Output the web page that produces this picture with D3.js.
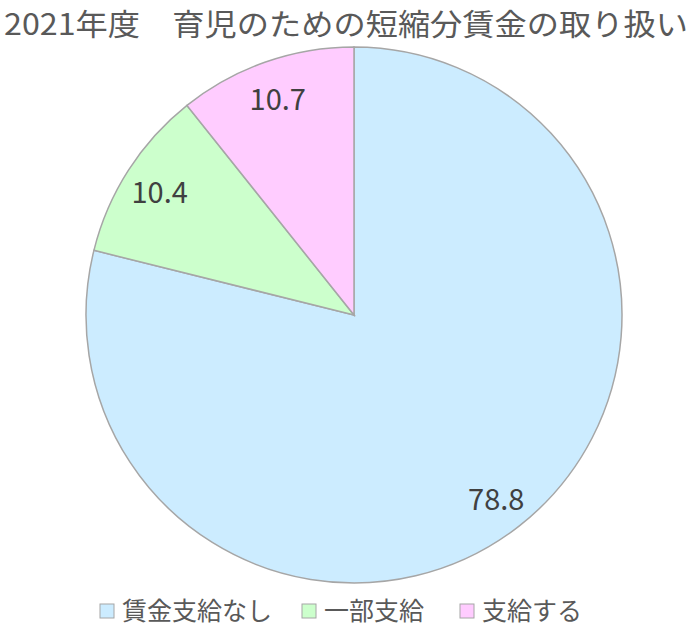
<!DOCTYPE html>
<html>
<head>
<meta charset="utf-8">
<script src="https://cdn.jsdelivr.net/npm/d3@7"></script>
<style>
  body { margin: 0; background: #fff; }
  svg { display: block; }
  text { font-family: "Noto Sans CJK JP", "Noto Sans", sans-serif; }
</style>
</head>
<body>
<div id="chart"></div>
<script>
const categories = ['賃金支給なし', '一部支給', '支給する'];
const values = [78.8, 10.4, 10.7];
const colors = ['#ccecff', '#ccffcc', '#ffccff'];
const title = '2021年度\u3000育児のための短縮分賃金の取り扱い';

const width = 700;
const height = 628;
const center = { x: 354, y: 315 };
const radius = 268;
const labelRadius = 231;

const svg = d3.select('#chart').append('svg').attr('width', width).attr('height', height);

svg.append('text')
  .attr('x', 4)
  .attr('y', 35)
  .attr('font-size', 30)
  .attr('textLength', 684)
  .attr('lengthAdjust', 'spacingAndGlyphs')
  .attr('fill', '#595959')
  .text(title);

const data = categories.map((name, i) => ({ name, value: values[i], color: colors[i] }));

const pie = d3.pie().sort(null).value(d => d.value);
const arc = d3.arc().innerRadius(0).outerRadius(radius);
const labelArc = d3.arc().innerRadius(labelRadius).outerRadius(labelRadius);

const chart = svg.append('g').attr('transform', `translate(${center.x},${center.y})`);

chart.selectAll('.slice')
  .data(pie(data))
  .enter()
  .append('path')
  .attr('class', 'slice')
  .attr('d', arc)
  .attr('fill', d => d.data.color)
  .attr('stroke', '#a6a6a6')
  .attr('stroke-width', 1.5);

chart.selectAll('.label')
  .data(pie(data))
  .enter()
  .append('text')
  .attr('class', 'label')
  .attr('transform', d => `translate(${labelArc.centroid(d)})`)
  .attr('text-anchor', 'middle')
  .attr('dominant-baseline', 'central')
  .attr('font-size', 29)
  .attr('fill', '#404040')
  .text(d => d.data.value.toFixed(1));

// legend
const legendX = [100, 302, 460];
const legend = svg.append('g').attr('class', 'legend');
const items = legend.selectAll('.item')
  .data(data)
  .enter()
  .append('g')
  .attr('class', 'item')
  .attr('transform', (d, i) => `translate(${legendX[i]},611)`);

items.append('rect')
  .attr('x', 0)
  .attr('y', -7)
  .attr('width', 14)
  .attr('height', 14)
  .attr('fill', d => d.color)
  .attr('stroke', '#a6a6a6')
  .attr('stroke-width', 1);

items.append('text')
  .attr('x', 22)
  .attr('y', 9)
  .attr('font-size', 25)
  .attr('fill', '#595959')
  .text(d => d.name);
</script>
</body>
</html>
